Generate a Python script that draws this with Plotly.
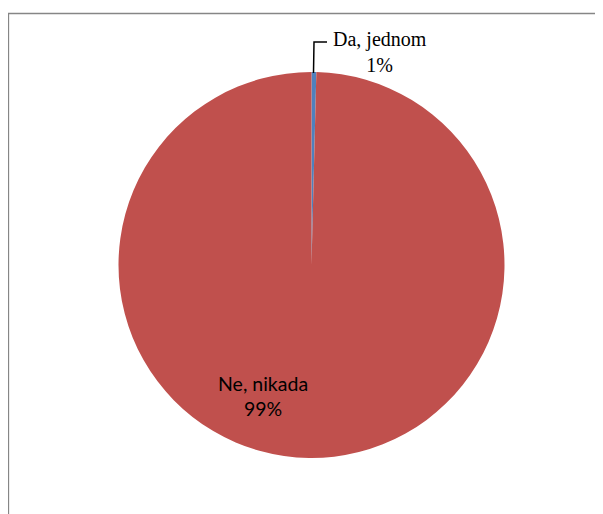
import plotly.graph_objects as go

labels = ["Da, jednom", "Ne, nikada"]
values = [0.4, 99.6]
pct_labels = ["1%", "99%"]
colors = ["#4F81BD", "#C0504D"]

OFF = 8  # page body margin
W, H = 603 - OFF, 514 - OFF
cx, cy, r = 311.5, 265, 193  # screen coordinates of the pie


def px(x):
    return (x - OFF) / W


def py(y):
    return 1 - (y - OFF) / H


fig = go.Figure(go.Pie(
    labels=labels, values=values, sort=False, direction="clockwise", rotation=0,
    marker=dict(colors=colors, line=dict(width=0)),
    textinfo="none", hoverinfo="label+percent", showlegend=False,
    domain=dict(x=[px(cx - r), px(cx + r)], y=[py(cy + r), py(cy - r)]),
))

fig.add_shape(type="rect", xref="paper", yref="paper",
              x0=px(8.5), x1=px(640), y0=py(560), y1=py(13.5),
              line=dict(color="#868686", width=1.3), layer="below")

# leader line for small slice
fig.add_shape(type="path", xref="paper", yref="paper",
              path=f"M {px(313.5)} {py(73)} L {px(314)} {py(42)} L {px(327)} {py(42)}",
              line=dict(color="black", width=1.5))

fig.add_annotation(x=px(380), y=py(52), xref="paper", yref="paper",
                   xanchor="center", yanchor="middle",
                   text=f"{labels[0]}<br>{pct_labels[0]}", showarrow=False,
                   font=dict(family="Liberation Serif", size=20, color="black"))
fig.add_annotation(x=px(263), y=py(396), xref="paper", yref="paper",
                   xanchor="center", yanchor="middle",
                   text=f"{labels[1]}<br>{pct_labels[1]}", showarrow=False,
                   font=dict(family="Lato", size=19.5, color="black"))

fig.update_layout(width=W, height=H, margin=dict(l=0, r=0, t=0, b=0),
                  paper_bgcolor="white", plot_bgcolor="white")
fig.write_html("out.html", config={"displayModeBar": False},
               post_script="document.documentElement.style.overflow='hidden';document.body.style.overflow='hidden';")
